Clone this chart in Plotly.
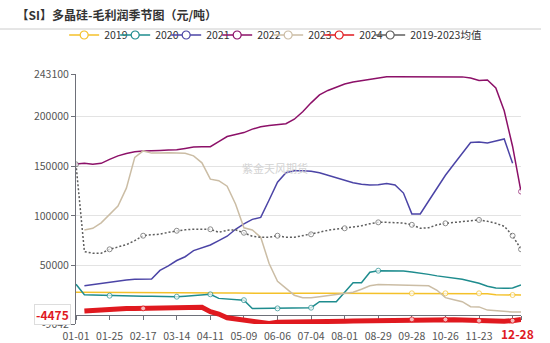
import plotly.graph_objects as go

cats = ["01-01","01-05","01-12","01-19","01-25","01-31","02-04","02-10","02-17","02-24",
        "03-02","03-08","03-14","03-21","03-28","04-04","04-11","04-18","04-25","05-02",
        "05-09","05-16","05-23","05-30","06-06","06-13","06-20","06-27","07-04","07-11",
        "07-18","07-25","08-01","08-08","08-15","08-22","08-29","09-05","09-12","09-19",
        "09-28","10-08","10-12","10-19","10-26","11-02","11-09","11-16","11-23","11-30",
        "12-07","12-14","12-21","12-28"]

y2019 = [22900,22900,22900,22900,22800,22800,22800,22700,22700,22600,
         22600,22500,22500,22400,22400,22300,22300,22200,22200,22100,
         22000,21900,21900,21900,21900,21900,21900,21900,21900,21900,
         21900,21900,21900,21900,21900,21900,21900,21900,21900,21900,
         21900,21900,21900,21900,21900,21900,21900,21900,21900,21500,
         20500,20200,20200,20200]

y2020 = [31000,20500,20200,19900,19500,19400,19300,19100,19000,18900,
         18700,18600,18500,19000,19600,20200,20900,16800,16300,15900,
         15000,6500,6600,6700,6700,6800,7000,7200,7400,13400,
         13400,13400,22900,32600,32600,43100,44700,44600,44500,44300,
         43500,42500,41000,39500,38500,37200,36000,34000,32000,29000,
         27200,26900,27200,30300]

y2021 = [None,29600,30800,31800,33000,34200,35300,36000,36300,36400,
         45000,49500,55000,58800,65000,68000,70600,75000,79500,86500,
         92000,96500,98500,116000,134000,143500,145600,145600,145000,143500,
         141000,138000,135500,133500,132000,131200,131500,132600,131200,123000,
         102000,102000,115000,128000,141000,152000,163500,174000,174600,173500,
         175500,177600,153000,None]

y2022 = [152300,153000,152000,153000,157000,160500,163000,164600,165400,165400,
         166000,166400,166600,168000,169500,169800,169800,174800,180000,182000,
         184000,187500,189800,191200,192200,193000,197500,205000,214000,222000,
         226500,229500,233000,235000,236300,237500,239000,240400,240400,240400,
         240400,240400,240400,240400,240400,240300,240200,239000,236500,237000,
         229000,206000,170000,124500]

y2023 = [None,85800,87500,93000,102000,110000,128000,159000,165500,163300,
         163300,163800,163500,163100,160500,153500,137000,135500,130000,112000,
         88000,85800,78500,52000,34000,27000,20000,17500,17500,18500,
         19700,20600,21800,23000,26000,29600,30800,30700,30500,30400,
         30300,30300,29500,25000,17500,15500,13500,8400,8200,5000,
         4200,3500,3000,3000]

y2024 = [None,4000,4700,5400,6000,6500,6700,6700,6700,7000,
         7200,7400,7200,7000,7400,7800,3300,1000,-2700,-3900,
         -5000,-6200,-7400,-8600,-7400,-7400,-7400,-7300,-7000,-6800,
         -6600,-6400,-6200,-6000,-5900,-5700,-5500,-5400,-5000,-4600,
         -4400,-4400,-4500,-4500,-4500,-4800,-5100,-5500,-5700,-6000,
         -6300,-6200,-5700,-4475]

yavg = [152000,64000,62300,62300,66300,68500,71000,75000,80000,81000,
        81500,83500,85000,86000,86500,86500,86500,83400,85500,86000,
        83000,79500,78300,78500,80000,78400,78400,80000,81400,83500,
        85500,86500,87500,88500,90000,92000,93500,93500,93500,92800,
        91000,87500,88000,91000,92500,93500,94500,95500,95900,94500,
        92500,89500,80000,66300]

names = ["2019", "2020", "2021", "2022", "2023", "2024", "2019-2023均值"]
colors = ["#F4C12A", "#1E8C8E", "#4B44A6", "#8C1068", "#CBBDA5", "#E0191F", "#5E5E5E"]

y_min, y_max = -9042, 243100
FONT = "Noto Sans CJK SC, Noto Sans, sans-serif"

series = [y2019, y2020, y2021, y2022, y2023, y2024, yavg]
widths = [1.5, 1.5, 1.5, 1.5, 1.5, 5, 1.5]
dashes = ["solid"] * 6 + ["2px,2px"]
marker_idx = [
    [40, 44, 48, 52],
    [4, 12, 16, 20, 24, 28, 36],
    [],
    [53],
    [],
    [8, 40, 44, 48, 52],
    list(range(0, 53, 4)) + [53],
]

fig = go.Figure()
for name, ys, col, w, d, mk in zip(names, series, colors, widths, dashes, marker_idx):
    sizes = [5 if i in mk else 0 for i in range(len(cats))]
    fig.add_trace(go.Scatter(
        x=cats, y=ys, mode="lines+markers", name=name, showlegend=False,
        line=dict(color=col, width=w, dash=d),
        marker=dict(size=sizes, color="white", line=dict(color=col, width=1)),
        hoverinfo="skip", connectgaps=False,
    ))
legend_w = [6, 6, 6, 6, 6, 6, 90]
for name, col, lw in zip(names, colors, legend_w):
    fig.add_trace(go.Scatter(
        x=[None], y=[None], mode="lines+markers", name=name, showlegend=True,
        line=dict(color=col, width=1.5), legendwidth=lw,
        marker=dict(size=8, color="white", line=dict(color=col, width=1.2)),
    ))

tick_idx = list(range(0, 54, 4)) + [53]
fig.update_xaxes(
    type="category", categoryorder="array", categoryarray=cats,
    range=[0, 53], anchor="free", position=(0 - y_min) / (y_max - y_min),
    showline=True, linecolor="#6E7079", linewidth=1,
    ticks="outside", ticklen=4, tickcolor="#6E7079",
    tickvals=[cats[i] for i in tick_idx],
    ticktext=[cats[i] if i <= 48 else "" for i in tick_idx],
    tickfont=dict(size=10.5, color="#555", family=FONT),
    ticklabelstandoff=7, automargin=False,
    showgrid=False, zeroline=False, layer="below traces",
)
y_ticks = [y_min, 50000, 100000, 150000, 200000, y_max]
fig.update_yaxes(
    range=[y_min, y_max], tickvals=y_ticks, ticktext=[str(v) for v in y_ticks],
    showgrid=False, zeroline=False, automargin=False,
    minor=dict(tickvals=[50000, 100000, 150000, 200000, y_max], showgrid=True,
               gridcolor="#E3E3E3", gridwidth=1.2, ticks=""),
    showline=True, linecolor="#6E7079", linewidth=1,
    ticks="outside", ticklen=4, tickcolor="#6E7079",
    tickfont=dict(size=10.5, color="#555", family=FONT),
)

fig.update_layout(
    width=550, height=343,
    margin=dict(l=76, r=29, t=74, b=19),
    paper_bgcolor="white", plot_bgcolor="white",
    font=dict(family=FONT, size=10.5, color="#555"),
    hovermode=False,
    title=dict(text="【SI】多晶硅-毛利润季节图（元/吨）", xref="container", x=0.03, xanchor="left",
               yref="container", y=1 - 16 / 343, yanchor="middle",
               font=dict(size=12, color="#333", family=FONT, weight="bold")),
    legend=dict(orientation="h", x=-0.0266, xanchor="left", y=1.156, yanchor="middle",
                font=dict(size=10.5, color="#333", family=FONT),
                bgcolor="rgba(0,0,0,0)"),
    shapes=[dict(type="line", xref="paper", yref="paper", x0=-76 / 445, x1=465 / 445,
                 y0=1.18, y1=1.18, line=dict(color="#CCCCCC", width=1))],
    annotations=[
        dict(text="紫金天风期货", xref="paper", yref="paper", x=0.447, y=0.624,
             showarrow=False, font=dict(size=11, color="#D3D3D3", family=FONT)),
        dict(text="<b>-4475</b>", xref="paper", yref="y", x=0, y=-4475, xanchor="right",
             xshift=-5, yshift=5, showarrow=False, bgcolor="white", bordercolor="#DDDDDD",
             borderwidth=1, borderpad=1, font=dict(size=12, color="#E0191F", family=FONT)),
        dict(text="<b>12-28</b>", xref="x", yref="y", x=cats[53], y=0, yanchor="top",
             xanchor="center", xshift=-4, yshift=-8, showarrow=False,
             font=dict(size=12, color="#E0191F", family=FONT)),
    ],
)

fig.write_html("out.html")
